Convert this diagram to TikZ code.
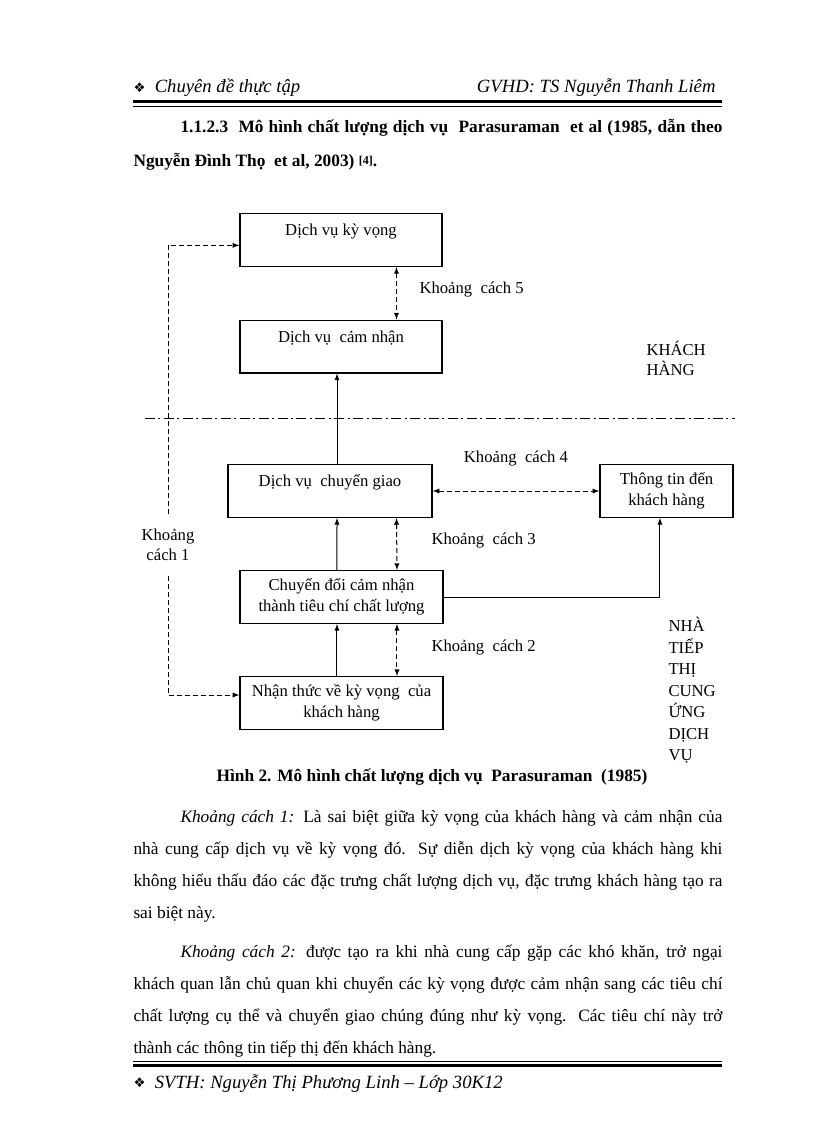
\documentclass[tikz,border=0pt]{standalone}
\usepackage{fontspec}
\setmainfont{Liberation Serif}
\newfontfamily\dingfont{DejaVu Sans}
\usepackage{tikz}
\usetikzlibrary{positioning}

\tikzset{
  box/.style={draw, line width=1pt, minimum height=39.5pt, inner sep=0pt, align=center, font=\fontsize{12.5}{15.75}\selectfont},
  onebox/.style={box, text height=16.5pt, text depth=23pt},
  gap/.style={inner sep=0pt, font=\fontsize{12.5}{15}\selectfont},
  hdr/.style={inner sep=0pt, font=\fontsize{14}{16}\selectfont\itshape},
  para/.style={inner sep=0pt, text width=441.75pt, align=justify, font=\fontsize{13}{24.2}\selectfont},
  gapline/.style={dash pattern=on 3.6pt off 2.4pt},
  divider/.style={dash pattern=on 7.5pt off 2.6pt on 1.5pt off 2.6pt}
}
\newcommand{\dingmark}{\raisebox{0.5pt}{\dingfont\fontsize{10}{10}\selectfont\upshape ❖}\hspace{7pt}}

\begin{document}
\begin{tikzpicture}[x=0.75pt, y=-0.75pt, >=latex, line width=0.75pt]
\useasboundingbox (0,0) rectangle (816,1123);

\node[hdr, anchor=base west] (HL) at (133,93) {\dingmark Chuyên đề thực tập};
\node[hdr, anchor=base east] (HR) at (716,93) {GVHD: TS Nguyễn Thanh Liêm};
\draw[line width=2.25pt] (133,102) -- (722,102);
\draw[line width=0.75pt] (133,106.5) -- (722,106.5);

\node[para, font=\fontsize{13}{25.5}\selectfont\bfseries, anchor=base west] (TI) at (133,133)
  {\hspace*{35.25pt}1.1.2.3\ \ Mô hình chất lượng dịch vụ\ \ Parasuraman\ \ et al (1985, dẫn theo\linebreak
   Nguyễn Đình Thọ\ \ et al, 2003) \raisebox{2pt}{\fontsize{9}{9}\selectfont [4]}.};

\node[onebox, minimum width=151.5pt] (DK) at (341,240) {Dịch vụ kỳ vọng};
\node[onebox, minimum width=151.5pt] (CN) at (341,346.5) {Dịch vụ\ \ cảm nhận};
\node[onebox, minimum width=153pt] (CG) at (330,491) {Dịch vụ\ \ chuyển giao};
\node[box, minimum width=99.75pt] (TT) at (666.5,491) {Thông tin đến\\khách hàng};
\node[box, minimum width=152.25pt] (CD) at (341.5,597) {Chuyển đổi cảm nhận\\thành tiêu chí chất lượng};
\node[box, minimum width=152.25pt] (NT) at (341.5,703) {Nhận thức về kỳ vọng\ \ của\\khách hàng};

\node[gap, anchor=west] (G5) at (419,290) {Khoảng\ \ cách 5};
\node[gap] (G4) at (516,459) {Khoảng\ \ cách 4};
\node[gap, anchor=west] (G3) at (431,540) {Khoảng\ \ cách 3};
\node[gap, anchor=west] (G2) at (431,647) {Khoảng\ \ cách 2};
\node[gap, align=center, inner ysep=11pt] (G1) at (168,545) {Khoảng\\cách 1};
\node[gap, align=left, anchor=west] (KH) at (646,358) {KHÁCH\\HÀNG};
\node[gap, align=left, anchor=west, font=\fontsize{12.5}{16.1}\selectfont] (NCC) at (668,690.5) {NHÀ\\TIẾP\\THỊ\\CUNG\\ỨNG\\DỊCH\\VỤ};

\draw[divider] (145,418) -- (735,418);

\path[->] ([xshift=5.25pt]CG.north) edge ([xshift=-3pt]CN.south);
\path[->] ([xshift=-3.4pt]CD.north) edge ([xshift=5.25pt]CG.south);
\path[->] ([xshift=-3.4pt]NT.north) edge ([xshift=-3.4pt]CD.south);
\path[<->, gapline] ([xshift=41.6pt]DK.south) edge ([xshift=41.6pt]CN.north);
\path[<->, gapline] ([xshift=49.9pt]CG.south) edge ([xshift=41.6pt]CD.north);
\path[<->, gapline] ([xshift=41.6pt]CD.south) edge ([xshift=41.6pt]NT.north);
\path[<->, gapline] (CG) edge (TT);
\draw[->] (CD.east) -| ([xshift=-4.9pt]TT.south);
\draw[->, gapline] (G1.north) |- ([yshift=-4pt]DK.west);
\draw[->, gapline] (G1.south) |- ([yshift=6pt]NT.west);

\node[inner sep=0pt, font=\fontsize{13}{15}\selectfont\bfseries, anchor=base] (CAP) at (432,781)
  {Hình 2. Mô hình chất lượng dịch vụ\ \ Parasuraman\ \ (1985)};

\node[para, anchor=base west] (P1) at (133,822)
  {\hspace*{35.25pt}\textit{Khoảng cách 1:} Là sai biệt giữa kỳ vọng của khách hàng và cảm nhận của\linebreak
   nhà cung cấp dịch vụ về kỳ vọng đó. Sự diễn dịch kỳ vọng của khách hàng khi\linebreak
   không hiểu thấu đáo các đặc trưng chất lượng dịch vụ, đặc trưng khách hàng tạo ra\linebreak
   sai biệt này.};
\node[para, anchor=base west] (P2) at (133,957)
  {\hspace*{35.25pt}\textit{Khoảng cách 2:} được tạo ra khi nhà cung cấp gặp các khó khăn, trở ngại\linebreak
   khách quan lẫn chủ quan khi chuyển các kỳ vọng được cảm nhận sang các tiêu chí\linebreak
   chất lượng cụ thể và chuyển giao chúng đúng như kỳ vọng. Các tiêu chí này trở\linebreak
   thành các thông tin tiếp thị đến khách hàng.};

\draw[line width=0.75pt] (133,1061) -- (722,1061);
\draw[line width=2.25pt] (133,1065) -- (722,1065);
\node[hdr, anchor=base west] (FT) at (133,1088) {\dingmark SVTH: Nguyễn Thị Phương Linh – Lớp 30K12};
\end{tikzpicture}
\end{document}
